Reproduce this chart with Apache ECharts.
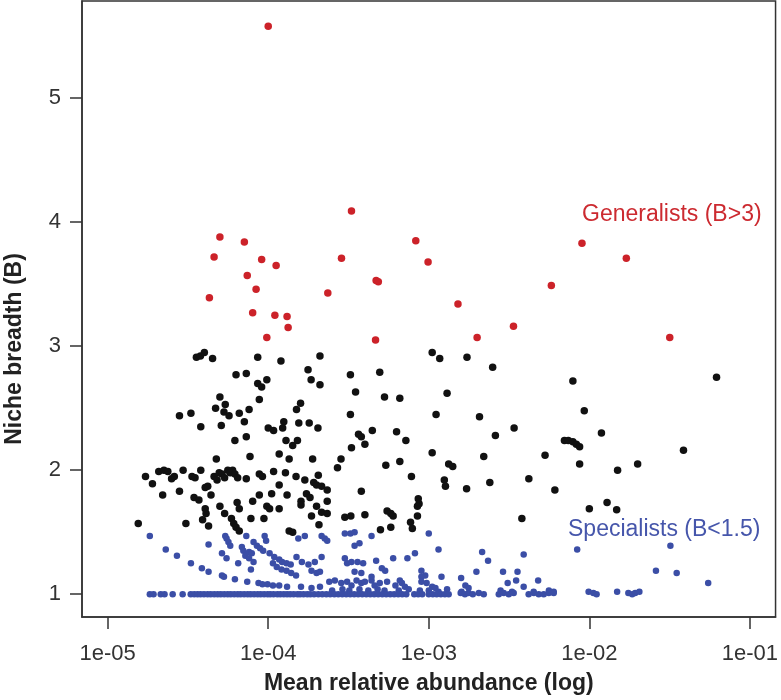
<!DOCTYPE html>
<html>
<head>
<meta charset="utf-8">
<title>Niche breadth vs mean relative abundance</title>
<script src="https://cdn.jsdelivr.net/npm/echarts@6.0.0/dist/echarts.min.js"></script>
<style>
  html, body { margin: 0; padding: 0; background: #ffffff; }
  #chart { width: 781px; height: 700px; }
</style>
</head>
<body>
<div id="chart"></div>
<script>
// [mean relative abundance, niche breadth B]
const generalists = [
  [1.0e-4, 5.58], [3.3e-4, 4.09], [5.0e-5, 3.88], [7.1e-5, 3.84], [4.6e-5, 3.72],
  [9.1e-5, 3.70], [1.12e-4, 3.65], [7.4e-5, 3.57], [8.4e-5, 3.46], [4.3e-5, 3.39],
  [8.0e-5, 3.27], [1.1e-4, 3.25], [1.31e-4, 3.24], [1.33e-4, 3.15], [9.8e-5, 3.07],
  [2.86e-4, 3.71], [2.35e-4, 3.43], [4.66e-4, 3.05], [4.7e-4, 3.53], [4.85e-4, 3.52],
  [8.3e-4, 3.85], [9.9e-4, 3.68], [9.0e-3, 3.83], [1.7e-2, 3.71], [5.8e-3, 3.49],
  [1.52e-3, 3.34], [3.37e-3, 3.16], [2.0e-3, 3.07], [3.17e-2, 3.07]
];

const others = [
  [3.57e-5, 2.91], [3.78e-5, 2.92], [4.0e-5, 2.95], [4.5e-5, 2.90], [8.6e-5, 2.91],
  [6.3e-5, 2.77], [7.3e-5, 2.78], [8.6e-5, 2.70], [9.1e-5, 2.67], [9.8e-5, 2.73],
  [8.8e-5, 2.57], [5.0e-5, 2.59], [4.7e-5, 2.50], [5.4e-5, 2.53], [5.3e-5, 2.47],
  [5.7e-5, 2.44], [6.6e-5, 2.46], [7.6e-5, 2.49], [2.8e-5, 2.44], [3.3e-5, 2.46],
  [3.8e-5, 2.35], [5.1e-5, 2.36], [7.1e-5, 2.39], [6.2e-5, 2.24], [7.3e-5, 2.27],
  [1.0e-4, 2.34], [4.75e-5, 2.09], [7.7e-5, 2.11],
  [1.2e-4, 2.88], [2.1e-4, 2.92], [1.77e-4, 2.81], [1.85e-4, 2.73], [2.1e-4, 2.69],
  [3.25e-4, 2.77], [4.95e-4, 2.79], [3.5e-4, 2.63], [5.3e-4, 2.59], [6.6e-4, 2.58],
  [1.59e-4, 2.54], [1.5e-4, 2.49], [3.25e-4, 2.45], [1.25e-4, 2.39], [1.23e-4, 2.34],
  [1.08e-4, 2.32], [1.55e-4, 2.38], [1.8e-4, 2.38], [2.04e-4, 2.34], [3.65e-4, 2.29],
  [3.8e-4, 2.27], [4.45e-4, 2.32], [6.3e-4, 2.31], [7.2e-4, 2.24], [1.29e-4, 2.24],
  [1.42e-4, 2.20], [1.52e-4, 2.24], [3.3e-4, 2.18], [4.0e-4, 2.21], [1.17e-4, 2.13],
  [1.35e-4, 2.09], [1.89e-4, 2.09], [2.84e-4, 2.09], [2.7e-4, 2.02], [5.4e-4, 2.04],
  [6.6e-4, 2.07], [1.05e-3, 2.14],
  [1.05e-3, 2.95], [1.17e-3, 2.90], [1.73e-3, 2.91], [2.5e-3, 2.83], [1.3e-3, 2.62],
  [1.11e-3, 2.45], [2.07e-3, 2.43], [1.33e-3, 2.05], [1.41e-3, 2.03], [1.25e-3, 1.92],
  [1.27e-3, 1.87], [1.72e-3, 1.85], [2.2e-3, 2.11], [2.4e-3, 1.90], [2.6e-3, 2.28],
  [3.4e-3, 2.34], [4.2e-3, 1.93], [3.8e-3, 1.61], [5.3e-3, 2.12], [6.1e-3, 1.84],
  [7.9e-3, 2.72], [7.0e-3, 2.24], [7.4e-3, 2.24], [7.9e-3, 2.23], [8.3e-3, 2.21],
  [8.7e-3, 2.19], [8.7e-3, 2.05], [9.3e-3, 2.48], [1.19e-2, 2.30], [1.0e-2, 1.69],
  [1.29e-2, 1.74], [1.48e-2, 1.68], [1.5e-2, 2.00], [2.0e-2, 2.05], [3.86e-2, 2.16],
  [6.2e-2, 2.75],
  [1.72e-5, 1.95], [1.9e-5, 1.89], [2.08e-5, 1.99], [2.24e-5, 2.00], [2.37e-5, 1.99],
  [2.5e-5, 1.93], [2.6e-5, 1.95], [2.95e-5, 2.00], [2.2e-5, 1.80], [2.8e-5, 1.83],
  [3.35e-5, 1.95], [3.5e-5, 1.94], [3.8e-5, 2.00], [3.45e-5, 1.78], [3.7e-5, 1.76],
  [4.05e-5, 1.86], [4.2e-5, 1.87], [4.4e-5, 1.80], [4.6e-5, 1.95], [4.8e-5, 1.92],
  [4.95e-5, 1.98], [5.15e-5, 1.97], [5.35e-5, 1.94], [5.6e-5, 2.00], [5.8e-5, 1.98],
  [6.0e-5, 2.00], [6.2e-5, 1.97], [6.45e-5, 1.94], [7.3e-5, 1.93], [4.05e-5, 1.69],
  [4.1e-5, 1.65], [3.9e-5, 1.60], [4.25e-5, 1.55], [5.0e-5, 1.71], [6.4e-5, 1.74],
  [6.6e-5, 1.69], [5.9e-5, 1.61], [6.1e-5, 1.57], [6.3e-5, 1.54], [6.6e-5, 1.51],
  [5.35e-5, 1.65], [7.8e-5, 1.61], [8.0e-5, 1.75], [8.8e-5, 1.80], [9.4e-5, 1.61],
  [8.8e-5, 1.97], [9.2e-5, 1.95], [1.55e-5, 1.57], [3.07e-5, 1.57],
  [1.08e-4, 1.99], [1.28e-4, 1.98], [1.49e-4, 1.95], [1.69e-4, 1.92], [2.05e-4, 1.96],
  [1.92e-4, 1.90], [2.0e-4, 1.88], [2.15e-4, 1.87], [2.33e-4, 1.84], [1.05e-4, 1.81],
  [1.17e-4, 1.88], [1.31e-4, 1.80], [1.73e-4, 1.81], [1.82e-4, 1.78], [2.33e-4, 1.75],
  [9.8e-5, 1.71], [1.02e-4, 1.69], [1.17e-4, 1.69], [1.6e-4, 1.75], [1.6e-4, 1.72],
  [2.0e-4, 1.71], [2.15e-4, 1.66], [2.33e-4, 1.65], [1.86e-4, 1.63], [2.07e-4, 1.56],
  [1.35e-4, 1.51], [1.42e-4, 1.50], [3.8e-4, 1.83], [4.0e-4, 1.64], [3.0e-4, 1.62],
  [3.27e-4, 1.63], [5.0e-4, 1.52], [5.5e-4, 1.67], [5.8e-4, 1.65], [6.0e-4, 1.63],
  [5.8e-4, 1.54], [7.8e-4, 1.95], [8.6e-4, 1.77], [8.7e-4, 1.73], [8.5e-4, 1.71],
  [7.7e-4, 1.58], [7.9e-4, 1.53], [8.5e-4, 1.63]
];

const specialists = [
  [1.83e-5, 1.47], [2.3e-5, 1.36], [2.7e-5, 1.31], [3.3e-5, 1.25], [3.86e-5, 1.21],
  [4.25e-5, 1.18], [5.15e-5, 1.15], [5.3e-5, 1.14], [6.2e-5, 1.12], [7.4e-5, 1.10],
  [8.7e-5, 1.09], [9.2e-5, 1.08], [9.9e-5, 1.08], [4.25e-5, 1.40], [5.15e-5, 1.33],
  [5.5e-5, 1.29], [5.4e-5, 1.47], [5.5e-5, 1.45], [5.65e-5, 1.42], [5.8e-5, 1.39],
  [6.85e-5, 1.38], [7.0e-5, 1.35], [7.2e-5, 1.31], [6.5e-5, 1.25], [7.3e-5, 1.47],
  [8.1e-5, 1.42], [8.5e-5, 1.39], [8.9e-5, 1.37], [9.3e-5, 1.35], [7.6e-5, 1.34],
  [7.9e-5, 1.33], [7.6e-5, 1.29], [8.1e-5, 1.26], [7.8e-5, 1.20], [9.5e-5, 1.47],
  [9.7e-5, 1.43],
  [1.02e-4, 1.33], [1.09e-4, 1.30], [1.17e-4, 1.28], [1.22e-4, 1.26], [1.3e-4, 1.25],
  [1.38e-4, 1.24], [1.07e-4, 1.25], [1.13e-4, 1.22], [1.21e-4, 1.20], [1.3e-4, 1.19],
  [1.39e-4, 1.17], [1.49e-4, 1.15], [1.54e-4, 1.45], [1.69e-4, 1.47], [2.15e-4, 1.47],
  [2.25e-4, 1.45], [2.33e-4, 1.43], [1.5e-4, 1.30], [1.62e-4, 1.26], [1.78e-4, 1.24],
  [1.95e-4, 1.26], [2.15e-4, 1.30], [1.86e-4, 1.19], [2.0e-4, 1.17], [2.1e-4, 1.18],
  [3.0e-4, 1.49], [3.25e-4, 1.49], [3.45e-4, 1.50], [3.45e-4, 1.39], [3.7e-4, 1.41],
  [4.4e-4, 1.47], [3.0e-4, 1.29], [3.1e-4, 1.25], [3.3e-4, 1.26], [3.6e-4, 1.26],
  [3.9e-4, 1.25], [4.7e-4, 1.27], [6.0e-4, 1.29], [8.2e-4, 1.33], [1.0e-3, 1.49],
  [3.45e-4, 1.18], [3.8e-4, 1.17], [5.1e-4, 1.21], [5.35e-4, 1.19], [9.0e-4, 1.19],
  [9.5e-4, 1.15], [2.4e-4, 1.10], [2.6e-4, 1.11], [2.85e-4, 1.09], [3.1e-4, 1.10],
  [3.3e-4, 1.07], [3.55e-4, 1.11], [3.8e-4, 1.09], [4.0e-4, 1.10], [4.4e-4, 1.11],
  [4.6e-4, 1.07], [4.95e-4, 1.09], [5.5e-4, 1.10], [6.2e-4, 1.07], [6.8e-4, 1.09],
  [7.1e-4, 1.06], [9.0e-4, 1.14], [9.0e-4, 1.10], [9.7e-4, 1.09], [1.05e-3, 1.06],
  [1.1e-3, 1.05], [7.36e-4, 1.29], [4.4e-4, 1.14], [6.6e-4, 1.11],
  [1.07e-4, 1.07], [1.17e-4, 1.07], [1.31e-4, 1.06], [1.6e-4, 1.06], [1.86e-4, 1.05],
  [2.1e-4, 1.06],
  [1.15e-3, 1.36], [2.15e-3, 1.34], [2.34e-3, 1.27], [3.9e-3, 1.32], [8.4e-3, 1.36],
  [1.2e-3, 1.14], [1.98e-3, 1.18], [1.59e-3, 1.13], [1.69e-3, 1.07], [1.77e-3, 1.05],
  [2.9e-3, 1.18], [3.57e-3, 1.18], [3.5e-3, 1.11], [3.1e-3, 1.09], [4.8e-3, 1.11],
  [3.9e-3, 1.06], [2.6e-2, 1.19], [3.2e-2, 1.39], [3.5e-2, 1.17], [5.5e-2, 1.09],
  [2.5e-4, 1.03], [2.9e-4, 1.04], [3.2e-4, 1.03], [3.7e-4, 1.04], [4.2e-4, 1.03],
  [4.8e-4, 1.04], [5.3e-4, 1.03], [6.5e-4, 1.03], [7.5e-4, 1.04], [8.8e-4, 1.03],
  [1.0e-3, 1.03], [1.15e-3, 1.02], [1.3e-3, 1.04], [1.6e-3, 1.02], [2.8e-3, 1.03],
  [3.3e-3, 1.02], [4.5e-3, 1.02], [5.6e-3, 1.03], [6.0e-3, 1.02],
  // the floor at B = 1
  [1.83e-5, 1], [1.93e-5, 1], [2.14e-5, 1], [2.26e-5, 1], [2.54e-5, 1],
  [2.93e-5, 1], [3.29e-5, 1], [3.46e-5, 1], [3.63e-5, 1], [3.79e-5, 1],
  [3.98e-5, 1], [4.19e-5, 1], [4.38e-5, 1], [4.61e-5, 1], [4.84e-5, 1],
  [5.06e-5, 1], [5.32e-5, 1], [5.59e-5, 1], [5.84e-5, 1], [6.14e-5, 1],
  [6.45e-5, 1], [6.73e-5, 1], [7.08e-5, 1], [7.44e-5, 1], [7.77e-5, 1],
  [8.17e-5, 1], [8.59e-5, 1], [8.97e-5, 1], [9.43e-5, 1], [9.91e-5, 1],
  [1.03e-4, 1], [1.08e-4, 1], [1.14e-4, 1], [1.19e-4, 1], [1.25e-4, 1],
  [1.31e-4, 1], [1.37e-4, 1], [1.44e-4, 1], [1.52e-4, 1], [1.58e-4, 1],
  [1.66e-4, 1], [1.75e-4, 1], [1.83e-4, 1], [1.93e-4, 1], [2.05e-4, 1],
  [2.17e-4, 1], [2.30e-4, 1], [2.43e-4, 1], [2.58e-4, 1], [2.73e-4, 1],
  [2.89e-4, 1], [3.06e-4, 1], [3.24e-4, 1], [3.43e-4, 1], [3.63e-4, 1],
  [3.85e-4, 1], [4.08e-4, 1], [4.32e-4, 1], [4.57e-4, 1], [4.84e-4, 1],
  [5.13e-4, 1], [5.43e-4, 1], [5.75e-4, 1], [6.09e-4, 1], [6.45e-4, 1],
  [6.83e-4, 1], [7.24e-4, 1], [8.12e-4, 1], [8.59e-4, 1], [9.10e-4, 1],
  [1.00e-3, 1], [1.06e-3, 1], [1.12e-3, 1], [1.19e-3, 1], [1.26e-3, 1],
  [1.33e-3, 1], [1.58e-3, 1.01], [1.68e-3, 1], [1.77e-3, 1.01], [1.88e-3, 1],
  [2.05e-3, 1.01], [2.20e-3, 1], [2.73e-3, 1], [2.93e-3, 1.01], [3.15e-3, 1],
  [3.38e-3, 1.01], [4.19e-3, 1], [4.51e-3, 1.01], [4.84e-3, 1], [5.20e-3, 1],
  [5.59e-3, 1.01], [6.00e-3, 1.01], [9.9e-3, 1.02], [1.06e-2, 1.01], [1.11e-2, 1],
  [1.49e-2, 1.02], [1.75e-2, 1.01], [1.85e-2, 1], [1.93e-2, 1.01], [2.05e-2, 1.02]
];

const xTicks = [1e-5, 1e-4, 1e-3, 1e-2, 1e-1];
const yTicks = [1, 2, 3, 4, 5];

const toLog = pts => pts.map(p => [Math.log10(p[0]), p[1]]);
const axisColor = '#333333';

const chart = echarts.init(document.getElementById('chart'), null, { renderer: 'canvas' });

chart.setOption({
  animation: false,
  backgroundColor: '#ffffff',
  grid: {
    left: 82, right: 5, top: 1, bottom: 83,
    show: true, borderColor: axisColor, borderWidth: 1.5
  },
  xAxis: {
    type: 'value',
    min: -5.16,
    max: -0.84,
    name: 'Mean relative abundance (log)',
    nameLocation: 'middle',
    nameGap: 55,
    nameTextStyle: { fontFamily: 'Liberation Sans', fontWeight: 'bold', fontSize: 23, color: '#222' },
    axisLine: { show: true, onZero: false, lineStyle: { color: axisColor, width: 1.5 } },
    axisTick: {
      show: true, inside: false, length: 12,
      customValues: xTicks.map(v => Math.log10(v)),
      lineStyle: { color: axisColor, width: 1.5 }
    },
    axisLabel: {
      margin: 26,
      customValues: xTicks.map(v => Math.log10(v)),
      fontFamily: 'Liberation Sans', fontSize: 22, color: '#333',
      formatter: v => '1e-' + String(Math.round(-v)).padStart(2, '0')
    },
    splitLine: { show: false }
  },
  yAxis: {
    type: 'value',
    min: 0.816,
    max: 5.784,
    axisLine: { show: true, onZero: false, lineStyle: { color: axisColor, width: 1.5 } },
    axisTick: {
      show: true, inside: false, length: 12,
      customValues: yTicks,
      lineStyle: { color: axisColor, width: 1.5 }
    },
    axisLabel: {
      margin: 21,
      customValues: yTicks,
      fontFamily: 'Liberation Sans', fontSize: 22, color: '#333'
    },
    splitLine: { show: false }
  },
  graphic: [
    {
      type: 'text', x: 15, y: 349, rotation: Math.PI / 2,
      style: {
        text: 'Niche breadth (B)', fill: '#222',
        font: 'bold 23px "Liberation Sans", Arial, sans-serif',
        align: 'center', verticalAlign: 'middle'
      }
    },
    {
      type: 'text', x: 582, y: 215,
      style: {
        text: 'Generalists (B>3)', fill: '#cc2a30',
        font: '23px "Liberation Sans", Arial, sans-serif',
        align: 'left', verticalAlign: 'middle'
      }
    },
    {
      type: 'text', x: 568, y: 530,
      style: {
        text: 'Specialists (B<1.5)', fill: '#4656ab',
        font: '23px "Liberation Sans", Arial, sans-serif',
        align: 'left', verticalAlign: 'middle'
      }
    }
  ],
  series: [
    {
      name: 'Specialists', type: 'scatter', symbolSize: 6.5,
      itemStyle: { color: '#3b4ea6', opacity: 1 },
      data: toLog(specialists)
    },
    {
      name: 'Others', type: 'scatter', symbolSize: 7.5,
      itemStyle: { color: '#111111', opacity: 1 },
      data: toLog(others)
    },
    {
      name: 'Generalists', type: 'scatter', symbolSize: 7.5,
      itemStyle: { color: '#cc2229', opacity: 1 },
      data: toLog(generalists)
    }
  ]
});
</script>
</body>
</html>
